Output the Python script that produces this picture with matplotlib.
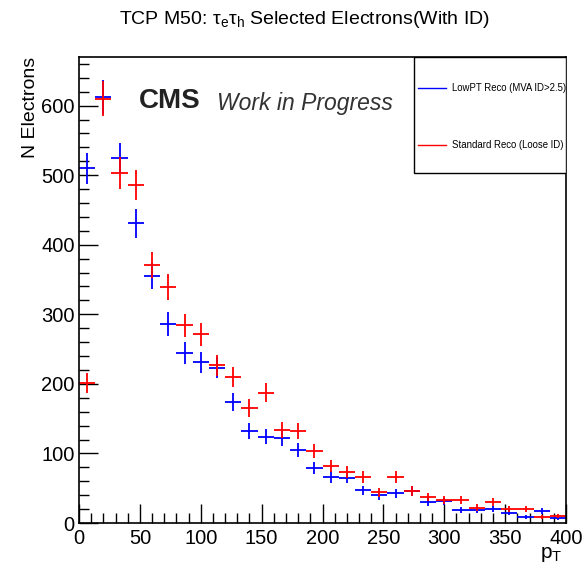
import numpy as np
import matplotlib.pyplot as plt
from matplotlib.patches import Rectangle
from matplotlib.ticker import MultipleLocator

plt.rcParams["font.family"] = ["Liberation Sans", "DejaVu Sans"]
plt.rcParams["mathtext.fontset"] = "custom"
plt.rcParams["mathtext.rm"] = "Liberation Sans"

# 30 bins of pT between 0 and 400
bin_edges = np.linspace(0, 400, 31)
lowpt_counts = [510, 612, 524, 431, 355, 286, 244, 231, 223, 174,
                132, 124, 122, 105, 79, 66, 65, 47, 40, 43,
                46, 30, 31, 19, 19, 20, 15, 9, 17, 7]
standard_counts = [201, 610, 503, 486, 371, 339, 284, 271, 227, 210,
                   165, 187, 134, 132, 103, 82, 73, 66, 44, 66,
                   46, 37, 33, 33, 22, 30, 20, 20, 9, 10]
lowpt_label = "LowPT Reco (MVA ID>2.5)"
standard_label = "Standard Reco (Loose ID)"

centres = 0.5 * (bin_edges[1:] + bin_edges[:-1])
half_width = 0.5 * np.diff(bin_edges)

fig = plt.figure(figsize=(5.83, 5.67), dpi=100)
ax = fig.add_axes([0.1355, 0.0776, 0.8355, 0.822])

ax.errorbar(centres, lowpt_counts, xerr=half_width, yerr=np.sqrt(lowpt_counts),
            fmt="none", ecolor="blue", elinewidth=1.3)
ax.errorbar(centres, standard_counts, xerr=half_width, yerr=np.sqrt(standard_counts),
            fmt="none", ecolor="red", elinewidth=1.3)

ax.set_xlim(0, 400)
ax.set_ylim(0, 670)
ax.xaxis.set_major_locator(MultipleLocator(50))
ax.xaxis.set_minor_locator(MultipleLocator(10))
ax.yaxis.set_major_locator(MultipleLocator(100))
ax.yaxis.set_minor_locator(MultipleLocator(20))
ax.tick_params(which="both", direction="in", top=False, right=False, labelsize=14.5, width=1)
ax.tick_params(which="major", length=14)
ax.tick_params(which="minor", length=7)
ax.tick_params(axis="x", pad=4)
ax.tick_params(axis="y", pad=3)
for s in ax.spines.values():
    s.set_linewidth(1.2)

fig.text(0.523, 0.965, r"TCP M50: τ$_{\mathrm{e}}$τ$_{\mathrm{h}}$ Selected Electrons(With ID)",
         ha="center", va="center", fontsize=14)
fig.text(0.052, 0.9, "N Electrons", rotation=90, ha="center", va="top", fontsize=14)
fig.text(0.965, 0.022, r"p$_{\mathrm{T}}$", ha="right", va="center", fontsize=15)

# CMS label
ax.text(0.122, 0.905, "CMS", transform=ax.transAxes, fontsize=20, fontweight="bold",
        color="#222222", va="center")
ax.text(0.284, 0.900, "Work in Progress", transform=ax.transAxes, fontsize=16.5,
        style="italic", color="#333333", va="center")

# legend box
ax.add_patch(Rectangle((0.688, 0.751), 0.312, 0.249, transform=ax.transAxes,
                       facecolor="white", edgecolor="black", linewidth=1, zorder=5))
ax.plot([0.696, 0.754], [0.933, 0.933], transform=ax.transAxes, color="blue", lw=1, zorder=6)
ax.plot([0.696, 0.754], [0.811, 0.811], transform=ax.transAxes, color="red", lw=1, zorder=6)
ax.text(0.766, 0.933, lowpt_label, transform=ax.transAxes, fontsize=6.9, va="center", zorder=6)
ax.text(0.766, 0.811, standard_label, transform=ax.transAxes, fontsize=6.9, va="center", zorder=6)

fig.savefig("out.png", dpi=100)
